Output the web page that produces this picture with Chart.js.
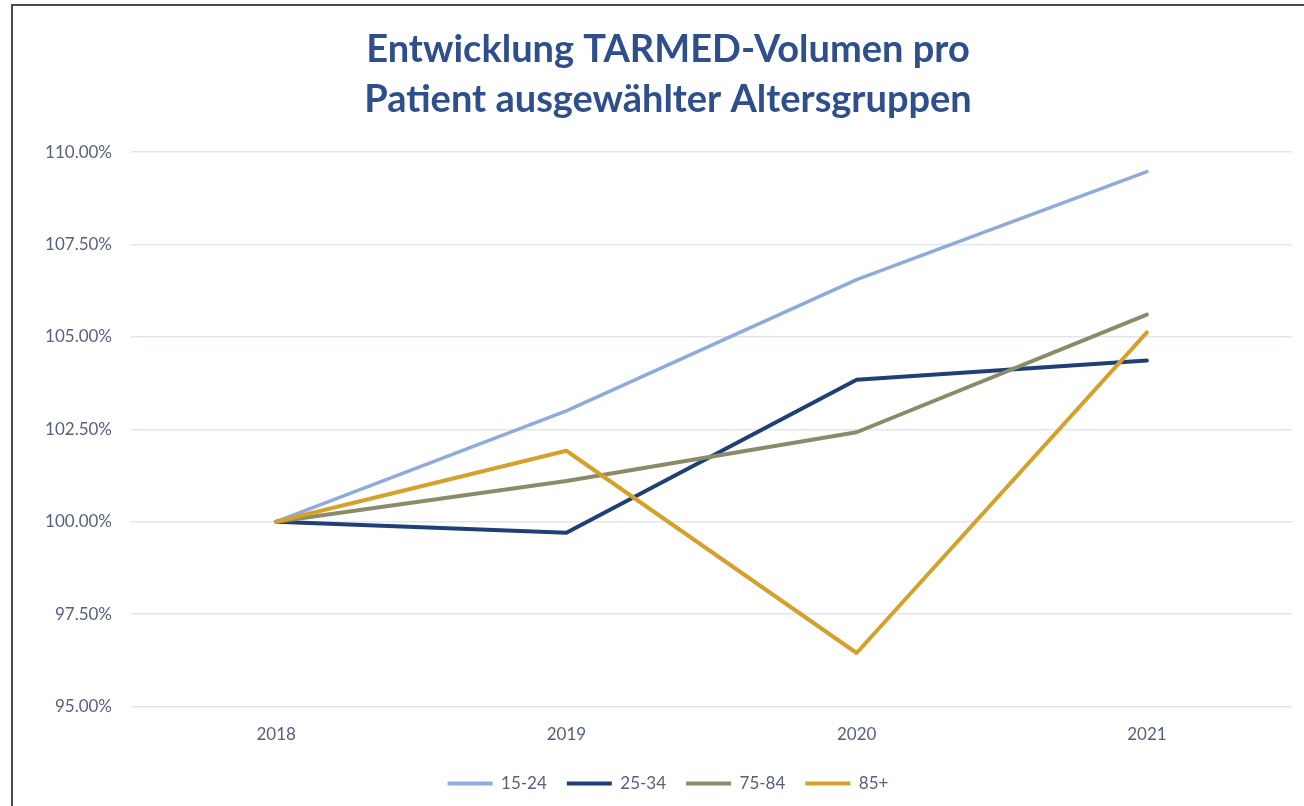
<!DOCTYPE html>
<html>
<head>
<meta charset="utf-8">
<script src="https://cdn.jsdelivr.net/npm/chart.js@4/dist/chart.umd.min.js"></script>
<style>
  html, body { margin: 0; padding: 0; background: #fff; }
  #wrap { position: relative; width: 1304px; height: 806px; overflow: hidden; }
  #rahmen { position: absolute; left: 11px; top: 4px; width: 1400px; height: 900px;
            border-left: 2px solid #4a4a4a; border-top: 2px solid #4a4a4a; pointer-events: none; }
  canvas { position: absolute; left: 0; top: 0; }
</style>
</head>
<body>
<div id="wrap">
  <canvas id="grafico" width="1304" height="806"></canvas>
  <div id="rahmen"></div>
</div>
<script>
// Daten
const jahre = ['2018', '2019', '2020', '2021'];
const gruppen = ['15-24', '25-34', '75-84', '85+'];
const werte1524 = [100.0, 103.0, 106.55, 109.47];
const werte2534 = [100.0, 99.7, 103.84, 104.36];
const werte7584 = [100.0, 101.1, 102.42, 105.6];
const werte85 = [100.0, 101.92, 96.45, 105.12];
const farben = ['#8FAADC', '#1F3F77', '#8C8B69', '#D4A12A'];
const yTicks = [95, 97.5, 100, 102.5, 105, 107.5, 110];

const schrift = 'Lato, "Open Sans", sans-serif';
const textFarbe = '#566080';

function linie(idx, werte, breite, reihenfolge) {
  return {
    label: gruppen[idx],
    data: werte,
    borderColor: farben[idx],
    backgroundColor: farben[idx],
    borderWidth: breite,
    borderCapStyle: 'round',
    borderJoinStyle: 'round',
    pointRadius: 0,
    pointHoverRadius: 0,
    tension: 0,
    fill: false,
    order: reihenfolge   // spätere Reihen liegen oben, wie in Excel
  };
}

const ctx = document.getElementById('grafico').getContext('2d');
new Chart(ctx, {
  type: 'line',
  data: {
    labels: jahre,
    datasets: [
      linie(0, werte1524, 3.5, 4),
      linie(1, werte2534, 4, 3),
      linie(2, werte7584, 4, 2),
      linie(3, werte85, 4, 1)
    ]
  },
  options: {
    responsive: false,
    animation: false,
    layout: { padding: { left: 44, right: 12, top: 0, bottom: 4 } },
    plugins: {
      title: {
        display: true,
        text: ['Entwicklung TARMED-Volumen pro', 'Patient ausgewählter Altersgruppen'],
        color: '#2F4F8C',
        font: { family: schrift, size: 38, weight: 'bold', lineHeight: 1.316 },
        padding: { top: 25, bottom: 27 }
      },
      legend: {
        position: 'bottom',
        labels: {
          color: textFarbe,
          font: { family: schrift, size: 17 },
          boxWidth: 45,
          boxHeight: 4,
          padding: 20,
          sort: (a, b) => a.datasetIndex - b.datasetIndex,
          generateLabels: (chart) =>
            Chart.defaults.plugins.legend.labels.generateLabels(chart)
              .map(l => ({ ...l, lineWidth: 0 }))
        }
      },
      tooltip: { enabled: false }
    },
    scales: {
      x: {
        offset: true,
        grid: { display: false },
        border: { display: false },
        ticks: { color: textFarbe, font: { family: schrift, size: 17 }, padding: 10 }
      },
      y: {
        min: 95,
        max: 110,
        afterFit: (s) => { s.width = 87; },
        afterBuildTicks: (s) => { s.ticks = yTicks.map(v => ({ value: v })); },
        grid: { color: '#E3E6EF', lineWidth: 1.5, drawTicks: false },
        border: { display: false },
        ticks: {
          color: textFarbe,
          font: { family: schrift, size: 17 },
          padding: 19,
          callback: (v) => v.toFixed(2) + '%'
        }
      }
    }
  }
});
</script>
</body>
</html>
